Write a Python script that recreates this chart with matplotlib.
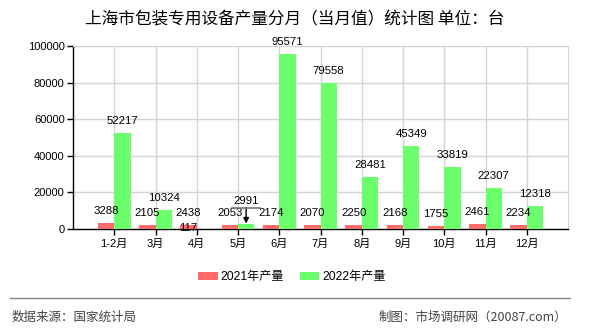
import numpy as np
from matplotlib import pyplot as plt
from matplotlib import transforms as mtransforms
from matplotlib.lines import Line2D

# 上海市包装专用设备产量 (台)
months = ['1-2月', '3月', '4月', '5月', '6月', '7月', '8月', '9月', '10月', '11月', '12月']
prod_2021 = [3288, 2105, 2438, 2053, 2174, 2070, 2250, 2168, 1755, 2461, 2234]
prod_2022 = [52217, 10324, 117, 2991, 95571, 79558, 28481, 45349, 33819, 22307, 12318]
y_ticks = [0, 20000, 40000, 60000, 80000, 100000]

red = '#ff6b6b'
green = '#6bff6b'
num_font = ['Liberation Sans', 'Noto Sans CJK SC']
cjk_font = ['Noto Sans CJK SC', 'DejaVu Sans']

plt.rcParams['font.family'] = num_font

W, H = 590, 330
fig = plt.figure(figsize=(W / 100, H / 100), dpi=100)
ax = fig.add_axes([73 / W, 1 - 229 / H, (568 - 73) / W, (229 - 46) / H])

x = np.arange(len(months))
bw = 0.395
ax.bar(x - bw / 2, prod_2021, bw, color=red, label='2021年产量', zorder=3)
ax.bar(x + bw / 2, prod_2022, bw, color=green, label='2022年产量', zorder=3)

ax.set_xlim(-1, len(months))
ax.set_ylim(0, 100000)
ax.set_xticks(x, months)
ax.set_yticks(y_ticks)
ax.grid(True, color='#d4d4d4', lw=1, zorder=0)
ax.tick_params(axis='both', direction='out', length=4, width=1, color='black',
               labelsize=8, pad=2)
ax.tick_params(axis='x', pad=3)
for s in ['top', 'right']:
    ax.spines[s].set_color('#d4d4d4')
for s in ['left', 'bottom']:
    ax.spines[s].set_color('black')
    ax.spines[s].set_linewidth(1)

# value labels
for i in range(len(months)):
    ax.annotate(str(prod_2021[i]), (x[i] - bw / 2, prod_2021[i]), xytext=(0, 12),
                textcoords='offset pixels', ha='center', va='center', fontsize=8.2, zorder=5)
    if months[i] == '4月':
        ax.annotate(str(prod_2022[i]), (x[i] + bw / 2, prod_2022[i]), xytext=(-17, 1),
                    textcoords='offset pixels', ha='center', va='center', fontsize=8.2, zorder=5)
    elif months[i] == '5月':
        ax.annotate(str(prod_2022[i]), (x[i] + bw / 2, prod_2022[i]), xytext=(0, 23),
                    textcoords='offset pixels', ha='center', va='center', fontsize=8.2, zorder=5)
        ax.annotate('', (x[i] + bw / 2, prod_2022[i]), xytext=(0, 16),
                    textcoords='offset pixels', zorder=5,
                    arrowprops=dict(arrowstyle='-|>', color='black', lw=1,
                                    shrinkA=0, shrinkB=0, mutation_scale=8))
        off = mtransforms.ScaledTranslation(0, 16 / 100, fig.dpi_scale_trans)
        ax.plot([x[i] + bw / 2 - 0.34, x[i] + bw / 2 + 0.34], [prod_2022[i]] * 2,
                color='#777777', lw=1.2, transform=ax.transData + off, zorder=5)
    else:
        ax.annotate(str(prod_2022[i]), (x[i] + bw / 2, prod_2022[i]), xytext=(0, 12),
                    textcoords='offset pixels', ha='center', va='center', fontsize=8.2, zorder=5)

fig.text(0.5, 1 - 20 / H, '上海市包装专用设备产量分月（当月值）统计图 单位：台',
         ha='center', va='center', fontsize=12, family=cjk_font, color='black')

fig.legend(loc='center', bbox_to_anchor=(292 / W, 1 - 277 / H), ncol=2, frameon=False,
           handlelength=1.6, handleheight=0.7, handletextpad=0.25,
           columnspacing=1.3, prop={'family': num_font, 'size': 8.7})

fig.add_artist(Line2D([10 / W, 570 / W], [1 - 298 / H] * 2, color='#888888', lw=1))
fig.text(12 / W, 1 - 317 / H, '数据来源：国家统计局', ha='left', va='center',
         fontsize=9, family=cjk_font, color='#444444')
fig.text(567 / W, 1 - 317 / H, '制图：市场调研网（20087.com）', ha='right', va='center',
         fontsize=9, family=cjk_font, color='#444444')

plt.savefig('out.png', dpi=100)
